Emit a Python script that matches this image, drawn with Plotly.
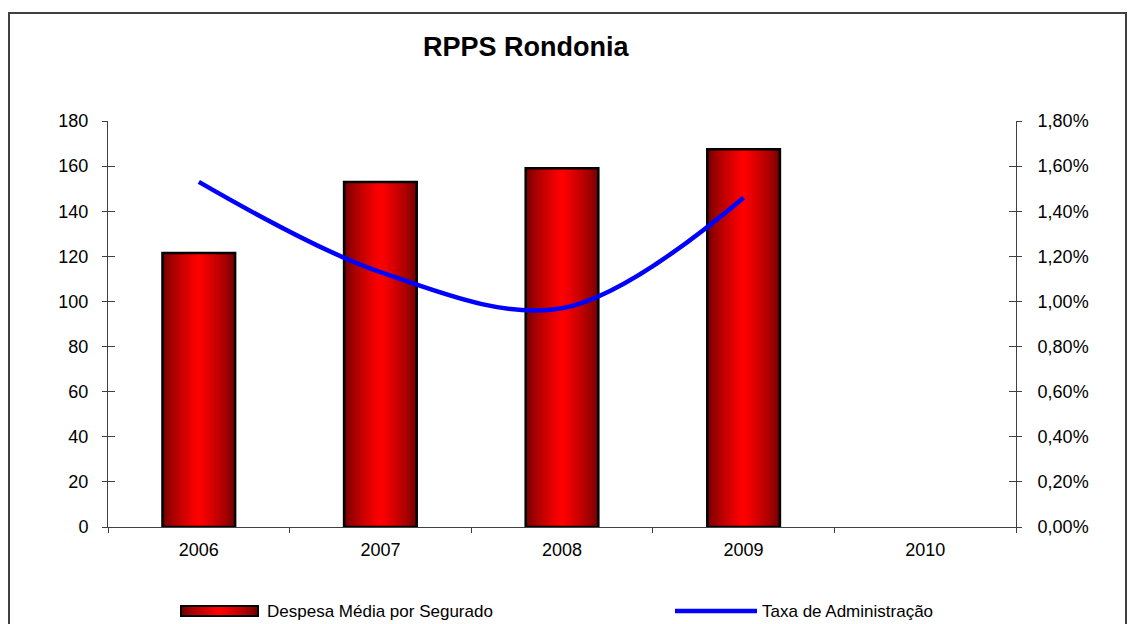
import plotly.graph_objects as go

# ---- data ----
years = ["2006", "2007", "2008", "2009", "2010"]
despesa = [121.5, 153.0, 159.0, 167.5, None]           # Despesa Média por Segurado
taxa = [0.0153, 0.0113, 0.0097, 0.0146, None]         # Taxa de Administração
title_text = "RPPS Rondonia"
bar_name = "Despesa Média por Segurado"
line_name = "Taxa de Administração"

FONT = "Liberation Sans, Arial, sans-serif"
AX = "#404040"

fig = go.Figure()

# gradient bars: overlaid layers, dark at edges -> bright red in the centre
N = 16
bar_w = 0.4
dark = (115, 0, 0)
bright = (255, 0, 0)
def mix(t):
    return "rgb(%d,%d,%d)" % tuple(int(d + (b - d) * t) for d, b in zip(dark, bright))

for i in range(N):
    t = (i / (N - 1)) ** 0.75
    fig.add_trace(go.Bar(x=years, y=despesa, width=bar_w * (1 - i / N),
                         marker=dict(color=mix(t), line=dict(width=0)),
                         showlegend=False, hoverinfo="skip"))
# outline
fig.add_trace(go.Bar(x=years, y=despesa, width=bar_w, name=bar_name,
                     marker=dict(color="rgba(0,0,0,0)", line=dict(color="black", width=2.5)),
                     showlegend=False))

# line on secondary axis
fig.add_trace(go.Scatter(x=years, y=taxa, name=line_name, yaxis="y2", mode="lines",
                         line=dict(color="#0000FF", width=4.5, shape="spline", smoothing=1),
                         showlegend=False))

# invisible helpers for inner tick marks (cross ticks)
fig.add_trace(go.Scatter(x=years, y=despesa, yaxis="y3", mode="markers",
                         marker=dict(opacity=0), hoverinfo="skip", showlegend=False))
fig.add_trace(go.Scatter(x=years, y=taxa, yaxis="y4", mode="markers",
                         marker=dict(opacity=0), hoverinfo="skip", showlegend=False))

tickfont = dict(family=FONT, size=18, color="black")

fig.update_layout(
    width=1136, height=624,
    margin=dict(l=108, r=120, t=121, b=97),
    paper_bgcolor="white", plot_bgcolor="white",
    barmode="overlay",
    separators=",.",
    font=dict(family=FONT, color="black"),
    xaxis=dict(type="category", categoryorder="array", categoryarray=years,
               range=[-0.5, 4.5], showline=True, linecolor=AX, linewidth=1,
               ticks="outside", tickson="boundaries", ticklen=5, tickcolor=AX,
               tickfont=tickfont, showgrid=False, ticklabelstandoff=6),
    yaxis=dict(range=[0, 180], dtick=20, showline=True, linecolor=AX, linewidth=1,
               ticks="outside", ticklen=5, tickcolor=AX, tickfont=tickfont,
               showgrid=False, zeroline=False, ticklabelstandoff=10),
    yaxis2=dict(range=[0, 0.018], dtick=0.002, tickformat=".2%", overlaying="y",
                side="right", showline=True, linecolor=AX, linewidth=1,
                ticks="outside", ticklen=5, tickcolor=AX, tickfont=tickfont,
                showgrid=False, zeroline=False, ticklabelstandoff=12),
    yaxis3=dict(range=[0, 180], dtick=20, overlaying="y", side="left",
                ticks="inside", ticklen=7, tickcolor=AX, showticklabels=False,
                showline=False, showgrid=False, zeroline=False),
    yaxis4=dict(range=[0, 0.018], dtick=0.002, overlaying="y", side="right",
                ticks="inside", ticklen=7, tickcolor=AX, showticklabels=False,
                showline=False, showgrid=False, zeroline=False),
    showlegend=False,
)

# ---- paper-coordinate helpers for title / legend / frame ----
PL, PR, PT, PB = 108, 1016, 121, 527
def px(x):
    return (x - PL) / (PR - PL)
def py(y):
    return (PB - y) / (PB - PT)

shapes = []
# outer chart frame
shapes.append(dict(type="rect", xref="paper", yref="paper",
                   x0=px(9), x1=px(1126), y0=py(640), y1=py(13),
                   line=dict(color="#404040", width=2), fillcolor="rgba(0,0,0,0)", layer="below"))

# legend: gradient bar symbol
lx0, lx1, ly0, ly1 = 181, 258, 606, 616
M = 10
for i in range(M):
    t = (i / (M - 1)) ** 0.75
    half = (lx1 - lx0) / 2 * (1 - i / M)
    cx = (lx0 + lx1) / 2
    shapes.append(dict(type="rect", xref="paper", yref="paper",
                       x0=px(cx - half), x1=px(cx + half), y0=py(ly1), y1=py(ly0),
                       line=dict(width=0), fillcolor=mix(t)))
shapes.append(dict(type="rect", xref="paper", yref="paper",
                   x0=px(lx0), x1=px(lx1), y0=py(ly1), y1=py(ly0),
                   line=dict(color="black", width=2), fillcolor="rgba(0,0,0,0)"))
# legend: line symbol
shapes.append(dict(type="line", xref="paper", yref="paper",
                   x0=px(675), x1=px(757), y0=py(611), y1=py(611),
                   line=dict(color="#0000FF", width=4.5)))

fig.update_layout(shapes=shapes)

annotations = [
    dict(text="<b>" + title_text + "</b>", xref="paper", yref="paper",
         x=px(526), y=py(47), xanchor="center", yanchor="middle", showarrow=False,
         font=dict(family=FONT, size=27, color="black")),
    dict(text=bar_name, xref="paper", yref="paper", x=px(265), y=py(611),
         xanchor="left", yanchor="middle", showarrow=False,
         font=dict(family=FONT, size=17, color="black")),
    dict(text=line_name, xref="paper", yref="paper", x=px(760), y=py(611),
         xanchor="left", yanchor="middle", showarrow=False,
         font=dict(family=FONT, size=17, color="black")),
]
fig.update_layout(annotations=annotations)

fig.write_html("out.html", config={"displayModeBar": False},
               post_script="document.body.style.margin='0';document.body.style.overflow='hidden';")
